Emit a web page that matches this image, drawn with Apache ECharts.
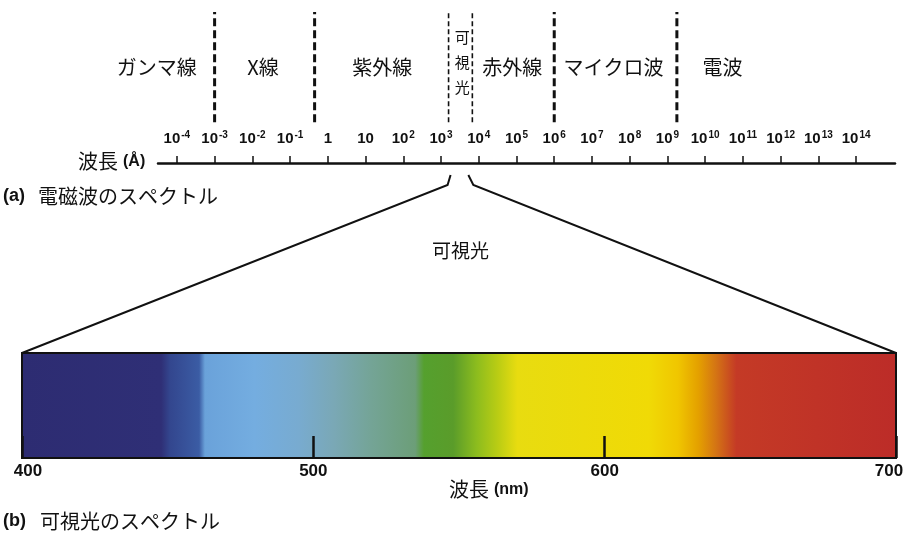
<!DOCTYPE html>
<html>
<head>
<meta charset="utf-8">
<script src="https://cdn.jsdelivr.net/npm/echarts@6/dist/echarts.min.js"></script>
<style>
  html, body { margin: 0; padding: 0; background: #fff; }
  #chart { width: 915px; height: 541px; }
</style>
</head>
<body>
<div id="chart"></div>
<script>
// ---- (a) electromagnetic spectrum, wavelength in Å on a log10 scale ----
const tickExponents = [-4, -3, -2, -1, 0, 1, 2, 3, 4, 5, 6, 7, 8, 9, 10, 11, 12, 13, 14];
const bandBoundaries = [-3, -0.35, 3.2, 3.83, 6, 9.25];
const visibleRange = [3.2, 3.83];
const bandNames = ['ガンマ線', 'X線', '紫外線', '可視光', '赤外線', 'マイクロ波', '電波'];
const bandCenters = [-4.53, -1.72, 1.44, 3.56, 4.89, 7.57, 10.46];

// ---- (b) visible spectrum, wavelength in nm ----
const nmTicks = [400, 500, 600, 700];
const spectrumNm = [400, 448, 451, 461, 463, 480, 495, 507, 520, 535, 538, 548, 556, 563, 570, 615, 625, 632, 638, 645, 700];
const spectrumColors = ['#2d2c72', '#2f2f76', '#33468e', '#3b5ca4', '#6aa2da', '#74ade0', '#78abd0', '#7aa8b6',
  '#74a496', '#6c9e78', '#55a02e', '#5a9c2a', '#8cbc1e', '#b8cc14', '#e8dc10', '#f0da06', '#f0c600',
  '#e4a000', '#d47414', '#c43a26', '#bc2c28'];

const JP = '"Noto Sans CJK JP", sans-serif';
const LATIN = '"Liberation Sans", Arial, sans-serif';
const INK = '#111';

const chart = echarts.init(document.getElementById('chart'), null, { renderer: 'canvas' });

const expLabel = (v) => {
  const e = Math.round(v);
  if (e === 0) return '{b|1}';
  if (e === 1) return '{b|10}';
  return '{b|10}{s|' + e + '}';
};

const nmMin = nmTicks[0], nmMax = nmTicks[nmTicks.length - 1];

// end labels of the nm axis sit slightly inside the band
const nmLabel = (v) => (v === nmMin ? '{l|' + v + '}' : v === nmMax ? '{r|' + v + '}' : '{m|' + v + '}');
const nmLabelStyle = { fontFamily: LATIN, fontWeight: 'bold', fontSize: 17, color: INK };

const jpText = (left, top, text, size) => ({
  type: 'text', left: left, top: top,
  style: { text: text, font: size + 'px ' + JP, fill: INK }
});
const latinText = (left, top, text, size) => ({
  type: 'text', left: left, top: top,
  style: { text: text, font: 'bold ' + size + 'px ' + LATIN, fill: INK }
});

chart.setOption({
  animation: false,
  backgroundColor: '#fff',
  grid: [
    { left: 158, right: 20, top: 12, height: 151 },
    { left: 22, right: 19, top: 353, height: 105 }
  ],
  xAxis: [
    {
      gridIndex: 0, type: 'value', min: -4.5, max: 15.03, z: 5,
      axisLine: { show: true, lineStyle: { color: INK, width: 2.5 } },
      axisTick: { show: true, inside: true, length: 7, customValues: tickExponents, lineStyle: { color: INK, width: 1.5 } },
      axisLabel: {
        show: true, inside: true, margin: 16, customValues: tickExponents,
        formatter: expLabel,
        rich: {
          b: { fontFamily: LATIN, fontWeight: 'bold', fontSize: 15, color: INK, lineHeight: 17 },
          s: { fontFamily: LATIN, fontWeight: 'bold', fontSize: 10, color: INK, lineHeight: 11, verticalAlign: 'top', padding: [0, 0, 0, 1] }
        }
      },
      splitLine: { show: false }
    },
    {
      gridIndex: 1, type: 'value', min: nmMin, max: nmMax, interval: 100, z: 5,
      axisLine: { show: true, lineStyle: { color: INK, width: 2 } },
      axisTick: { show: true, inside: true, length: 22, lineStyle: { color: INK, width: 2.5 } },
      axisLabel: {
        show: true, margin: 5, formatter: nmLabel,
        rich: {
          l: Object.assign({ padding: [0, 0, 0, 12] }, nmLabelStyle),
          m: nmLabelStyle,
          r: Object.assign({ padding: [0, 14, 0, 0] }, nmLabelStyle)
        }
      },
      splitLine: { show: false }
    }
  ],
  yAxis: [
    { gridIndex: 0, type: 'value', min: 0, max: 1, show: false },
    { gridIndex: 1, type: 'value', min: 0, max: 1, show: false }
  ],
  series: [
    {
      // dashed dividers between bands
      type: 'custom', xAxisIndex: 0, yAxisIndex: 0, silent: true,
      data: bandBoundaries.map((b) => [b]),
      renderItem: (params, api) => {
        const x = api.value(0);
        const thin = visibleRange.indexOf(x) >= 0;
        const p1 = api.coord([x, 0.27]);
        const p2 = api.coord([x, 1]);
        return {
          type: 'line',
          shape: { x1: p1[0], y1: p1[1], x2: p2[0], y2: p2[1] },
          style: { stroke: INK, lineWidth: thin ? 1.6 : 3, lineDash: thin ? [5, 3] : [8, 4] }
        };
      }
    },
    {
      // band names
      type: 'custom', xAxisIndex: 0, yAxisIndex: 0, silent: true,
      data: bandCenters.map((c) => [c]),
      renderItem: (params, api) => {
        const name = bandNames[params.dataIndex];
        const vertical = name === '可視光';
        const p = api.coord([api.value(0), vertical ? 0.665 : 0.63]);
        return {
          type: 'text',
          x: p[0], y: p[1],
          style: {
            text: vertical ? name.split('').join('\n') : name,
            fill: INK,
            font: (vertical ? '15px ' : '20px ') + JP,
            lineHeight: vertical ? 25 : 22,
            align: 'center', verticalAlign: 'middle'
          }
        };
      }
    },
    {
      // visible colour band
      type: 'custom', xAxisIndex: 1, yAxisIndex: 1, silent: true, z: 1,
      data: [[nmMin, nmMax]],
      renderItem: (params, api) => {
        const a = api.coord([api.value(0), 1]);
        const b = api.coord([api.value(1), 0]);
        const span = api.value(1) - api.value(0);
        const stops = spectrumNm.map((nm, i) => ({ offset: (nm - api.value(0)) / span, color: spectrumColors[i] }));
        return {
          type: 'rect',
          shape: { x: a[0], y: a[1], width: b[0] - a[0], height: b[1] - a[1] },
          style: { fill: new echarts.graphic.LinearGradient(0, 0, 1, 0, stops), stroke: INK, lineWidth: 2 }
        };
      }
    }
  ],
  graphic: [
    jpText(78, 151, '波長', 20),
    latinText(123, 154, '(Å)', 16),
    latinText(3, 187, '(a)', 18),
    jpText(38, 186, '電磁波のスペクトル', 20),
    jpText(432, 241, '可視光', 19),
    jpText(449, 479, '波長', 20),
    latinText(494, 482, '(nm)', 16),
    latinText(3, 512, '(b)', 18),
    jpText(40, 511, '可視光のスペクトル', 20)
  ]
});

// zoom lines from the visible band on the log axis to the corners of the colour band
const xL = chart.convertToPixel({ xAxisIndex: 0 }, visibleRange[0]);
const xR = chart.convertToPixel({ xAxisIndex: 0 }, visibleRange[1]);
const axisY = chart.convertToPixel({ yAxisIndex: 0 }, 0);
const barL = chart.convertToPixel({ xAxisIndex: 1, yAxisIndex: 1 }, [nmMin, 1]);
const barR = chart.convertToPixel({ xAxisIndex: 1, yAxisIndex: 1 }, [nmMax, 1]);

chart.setOption({
  graphic: [
    {
      id: 'zoomLeft', type: 'polyline', silent: true,
      shape: { points: [[xL + 2, axisY + 12], [xL - 1, axisY + 22], [barL[0], barL[1]]] },
      style: { stroke: INK, lineWidth: 2, fill: null }
    },
    {
      id: 'zoomRight', type: 'polyline', silent: true,
      shape: { points: [[xR - 4, axisY + 12], [xR + 1, axisY + 22], [barR[0], barR[1]]] },
      style: { stroke: INK, lineWidth: 2, fill: null }
    }
  ]
});
</script>
</body>
</html>
